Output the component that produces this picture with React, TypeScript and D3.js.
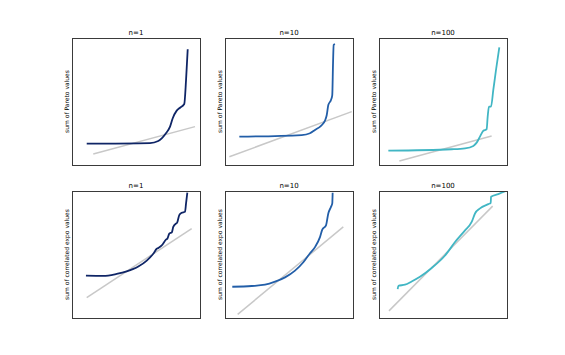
import React from "react";
import * as d3 from "d3";

// Panel titles and y labels
const titles = ["n=1", "n=10", "n=100", "n=1", "n=10", "n=100"];
const rowLabels = ["sum of Pareto values", "sum of correlated expo values"];
const colors = ["#0f2566", "#225ea8", "#41b6c4"];

// QQ curves (theoretical quantile %, sample value %)
const p1x = [11.5, 60.9, 67.4, 70.1, 73.4, 76.6, 78.7, 81.8, 84.4, 87.7, 89.1, 90.4];
const p1y = [16.8, 17.3, 18.9, 21.0, 25.0, 30.2, 36.8, 42.8, 45.1, 48.0, 66.9, 91.1];
const p2x = [11.2, 59.9, 66.4, 70.3, 75.0, 78.1, 79.5, 80.7, 82.8, 83.8, 84.4, 84.9, 85.9];
const p2y = [22.3, 23.6, 25.0, 27.6, 30.9, 34.9, 39.4, 47.2, 51.2, 55.1, 80.1, 94.5, 95.3];
const p3x = [7.3, 56.8, 67.2, 73.7, 76.3, 78.9, 81.5, 84.1, 84.9, 85.9, 87.5, 89.3, 91.4, 94.0];
const p3y = [11.3, 12.4, 13.1, 15.0, 17.6, 22.3, 27.0, 28.1, 38.0, 45.9, 45.9, 59.1, 74.8, 92.7];
const p4x = [10.9, 24.5, 34.9, 42.7, 51.8, 58.4, 63.5, 66.2, 67.5, 70.1, 73.4, 74.5, 76.0, 78.0, 79.1, 81.3, 82.0, 83.8, 85.7, 88.3, 89.1, 90.1];
const p4y = [33.3, 33.1, 34.7, 36.7, 40.5, 45.2, 50.6, 54.5, 55.2, 57.1, 61.7, 62.5, 66.4, 67.5, 71.7, 74.4, 74.8, 81.0, 82.8, 83.6, 90.2, 98.7];
const p5x = [5.7, 20.9, 31.3, 39.1, 46.9, 54.7, 61.2, 66.4, 70.3, 74.2, 76.0, 78.9, 80.7, 82.8, 83.8, 84.1];
const p5y = [24.6, 25.2, 26.2, 28.6, 32.0, 37.3, 43.9, 51.0, 55.8, 63.7, 69.6, 73.0, 82.3, 87.5, 90.2, 98.7];
const p6x = [14.6, 15.1, 20.3, 25.5, 32.0, 41.2, 51.6, 59.4, 67.2, 72.4, 75.0, 78.9, 85.4, 87.3, 87.5, 93.2, 99.2];
const p6y = [22.8, 25.4, 26.2, 28.8, 32.5, 39.4, 49.2, 59.8, 69.0, 75.6, 82.3, 86.3, 89.7, 90.7, 95.5, 97.6, 100.0];

// Reference (gray) lines: [x0, y0, x1, y1]
const refLines = [
  [16.6, 8.7, 96.1, 30.2],
  [3.4, 6.5, 99.0, 42.0],
  [15.9, 3.1, 88.0, 22.8],
  [11.5, 16.1, 93.5, 70.4],
  [9.9, 2.9, 92.4, 71.7],
  [7.8, 5.6, 88.8, 88.1],
];

const seriesX = [p1x, p2x, p3x, p4x, p5x, p6x];
const seriesY = [p1y, p2y, p3y, p4y, p5y, p6y];

const colLefts = [72, 225, 379];
const rowTops = [38, 191];
const PW = 128;
const PH = 127;

export default function App() {
  return (
    <svg
      width={565}
      height={355}
      style={{ position: "absolute", left: 0, top: 0, background: "#fff" }}
      fontFamily="DejaVu Sans, sans-serif"
    >
      <defs>
        {titles.map((_, i) => {
          const r = Math.floor(i / 3);
          const c = i % 3;
          return (
            <clipPath id={`clip${i}`} key={i}>
              <rect x={colLefts[c]} y={rowTops[r]} width={PW} height={PH} />
            </clipPath>
          );
        })}
      </defs>
      {titles.map((t, i) => {
        const r = Math.floor(i / 3);
        const c = i % 3;
        const x0 = colLefts[c];
        const y0 = rowTops[r];
        const xs = d3.scaleLinear().domain([0, 100]).range([x0, x0 + PW]);
        const ys = d3.scaleLinear().domain([0, 100]).range([y0 + PH, y0]);
        const pts: [number, number][] = seriesX[i].map((v, k) => [v, seriesY[i][k]]);
        const line = d3
          .line<[number, number]>()
          .x((d) => xs(d[0]))
          .y((d) => ys(d[1]))
          .curve(d3.curveMonotoneX);
        const rl = refLines[i];
        return (
          <g key={i}>
            <g clipPath={`url(#clip${i})`}>
              <line
                x1={xs(rl[0])}
                y1={ys(rl[1])}
                x2={xs(rl[2])}
                y2={ys(rl[3])}
                stroke="#c8c8c8"
                strokeWidth={1.5}
              />
              <path d={line(pts) || ""} fill="none" stroke={colors[c]} strokeWidth={1.8} strokeLinejoin="round" />
            </g>
            <rect
              x={x0 + 0.5}
              y={y0 + 0.5}
              width={PW}
              height={PH}
              fill="none"
              stroke="#3a3a3a"
              strokeWidth={1}
            />
            <text x={x0 + PW / 2} y={y0 - 3.5} textAnchor="middle" fontSize={7} fill="#000">
              {t}
            </text>
            <text
              transform={`translate(${x0 - 3.5},${y0 + PH / 2}) rotate(-90)`}
              textAnchor="middle"
              fontSize={6}
              fill="#000"
            >
              {rowLabels[r]}
            </text>
          </g>
        );
      })}
    </svg>
  );
}
